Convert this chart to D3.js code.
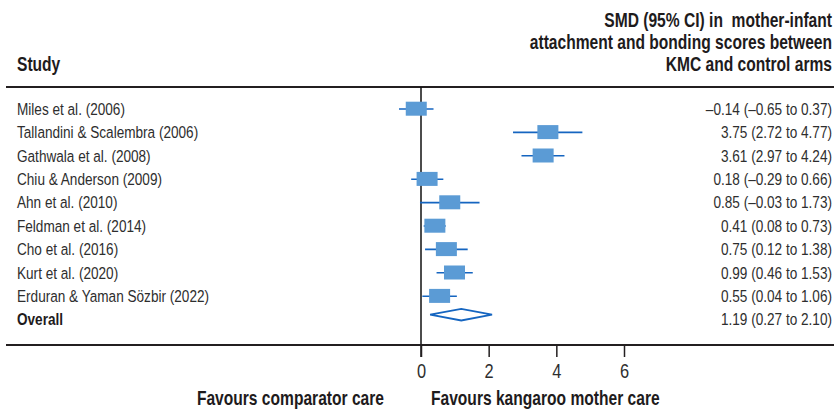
<!DOCTYPE html>
<html>
<head>
<meta charset="utf-8">
<script src="https://cdn.jsdelivr.net/npm/d3@7"></script>
<style>
  body { margin: 0; background: #fff; }
  svg text { font-family: "Liberation Sans", Arial, sans-serif; white-space: pre; }
</style>
</head>
<body>
<svg id="chart" width="834" height="410"></svg>
<script>
// Studies and their standardized mean differences (95% CI)
const studies = [
  'Miles et al. (2006)',
  'Tallandini & Scalembra (2006)',
  'Gathwala et al. (2008)',
  'Chiu & Anderson (2009)',
  'Ahn et al. (2010)',
  'Feldman et al. (2014)',
  'Cho et al. (2016)',
  'Kurt et al. (2020)',
  'Erduran & Yaman Sözbir (2022)'
];
const smd = [-0.14, 3.75, 3.61, 0.18, 0.85, 0.41, 0.75, 0.99, 0.55];
const ciLow = [-0.65, 2.72, 2.97, -0.29, -0.03, 0.08, 0.12, 0.46, 0.04];
const ciHigh = [0.37, 4.77, 4.24, 0.66, 1.73, 0.73, 1.38, 1.53, 1.06];

// Pooled estimate: [smd, low, high]
const overall = [1.19, 0.27, 2.10];

const xTicks = [0, 2, 4, 6];
const headerLines = ['SMD (95% CI) in  mother-infant', 'attachment and bonding scores between', 'KMC and control arms'];

const BOXFILL = '#5b9bd5';
const LINECOLOR = '#1565c0';
const TEXTCOLOR = '#2e2e2e';
const HEADCOLOR = '#1e1b1c';
// No condensed face installed, so squeeze the text horizontally.
const NARROW = 0.8;

const svg = d3.select('#chart');
const W = 834;

const rows = studies.concat(['Overall']);
const x = d3.scaleLinear().domain([0, 6]).range([421, 624]);
const y = d3.scalePoint().domain(rows).range([108.7, 319.3]);

const fmt = v => d3.format('.2f')(v).replace('−', '–').replace('-', '–');

// Squeeze a text selection around its own x anchor.
function condense(sel, k = NARROW) {
  sel.attr('transform', function () {
    const x0 = +this.getAttribute('x') || 0;
    return `translate(${x0 * (1 - k)},0) scale(${k},1)`;
  });
}

// Headers
svg.append('text')
  .attr('x', 17).attr('y', 71)
  .attr('font-size', 19.5).attr('font-weight', 'bold').attr('fill', HEADCOLOR)
  .text('Study')
  .call(condense);

svg.append('g')
  .selectAll('text')
  .data(headerLines)
  .join('text')
  .attr('x', 832)
  .attr('y', (d, i) => 27 + i * 22)
  .attr('text-anchor', 'end')
  .attr('font-size', 19.5).attr('font-weight', 'bold').attr('fill', HEADCOLOR)
  .text(d => d)
  .call(condense);

// Rules
svg.append('line')
  .attr('x1', 6).attr('x2', W).attr('y1', 87).attr('y2', 87)
  .attr('stroke', '#231f20').attr('stroke-width', 2);

// Zero line
svg.append('line')
  .attr('x1', x(0)).attr('x2', x(0)).attr('y1', 87).attr('y2', 357)
  .attr('stroke', '#111').attr('stroke-width', 1.5);

// Axis
const axis = svg.append('g')
  .attr('transform', 'translate(0,345)')
  .call(d3.axisBottom(x).tickValues(xTicks).tickSize(12).tickPadding(6.5).tickFormat(d3.format('d')));
axis.select('.domain').remove();
axis.selectAll('.tick line').attr('stroke', '#231f20').attr('stroke-width', 1.5);
axis.selectAll('.tick text')
  .attr('font-size', 20.5).attr('fill', TEXTCOLOR)
  .style('font-family', '"Liberation Sans", Arial, sans-serif')
  .attr('transform', `scale(${NARROW},1)`);

svg.append('line')
  .attr('x1', 6).attr('x2', W).attr('y1', 345).attr('y2', 345)
  .attr('stroke', '#231f20').attr('stroke-width', 2);

// Study labels
svg.append('g')
  .selectAll('text')
  .data(rows)
  .join('text')
  .attr('x', 17)
  .attr('y', d => y(d))
  .attr('dy', '0.36em')
  .attr('font-size', 17)
  .attr('font-weight', d => d === 'Overall' ? 'bold' : 'normal')
  .attr('fill', d => d === 'Overall' ? HEADCOLOR : TEXTCOLOR)
  .text(d => d)
  .call(condense);

// Value labels
const labels = studies.map((s, i) => `${fmt(smd[i])} (${fmt(ciLow[i])} to ${fmt(ciHigh[i])})`)
  .concat([`${fmt(overall[0])} (${fmt(overall[1])} to ${fmt(overall[2])})`]);
svg.append('g')
  .selectAll('text')
  .data(labels)
  .join('text')
  .attr('x', 832)
  .attr('y', (d, i) => y(rows[i]))
  .attr('dy', '0.36em')
  .attr('text-anchor', 'end')
  .attr('font-size', 17)
  .attr('fill', TEXTCOLOR)
  .text(d => d)
  .call(condense);

// CI lines
svg.append('g')
  .attr('stroke', LINECOLOR)
  .attr('stroke-width', 1.6)
  .selectAll('line')
  .data(studies)
  .join('line')
  .attr('x1', (d, i) => x(ciLow[i]))
  .attr('x2', (d, i) => x(ciHigh[i]))
  .attr('y1', d => y(d) + 0.3)
  .attr('y2', d => y(d) + 0.3);

// Boxes
const boxW = 21, boxH = 14;
svg.append('g')
  .attr('fill', BOXFILL)
  .selectAll('rect')
  .data(studies)
  .join('rect')
  .attr('x', (d, i) => x(smd[i]) - boxW / 2)
  .attr('y', d => y(d) - boxH / 2)
  .attr('width', boxW)
  .attr('height', boxH);

// Overall diamond
const dy = y('Overall') - 4.6;
svg.append('path')
  .attr('d', `M${x(overall[1])},${dy} L${x(overall[0])},${dy - 5.8} L${x(overall[2])},${dy} L${x(overall[0])},${dy + 5.8} Z`)
  .attr('fill', '#fff')
  .attr('stroke', LINECOLOR)
  .attr('stroke-width', 1.8);

// Direction labels
svg.append('text')
  .attr('x', 384).attr('y', 405)
  .attr('text-anchor', 'end')
  .attr('font-size', 19.5).attr('font-weight', 'bold').attr('fill', HEADCOLOR)
  .text('Favours comparator care')
  .call(condense);
svg.append('text')
  .attr('x', 431).attr('y', 405)
  .attr('font-size', 19.5).attr('font-weight', 'bold').attr('fill', HEADCOLOR)
  .text('Favours kangaroo mother care')
  .call(condense);
</script>
</body>
</html>
